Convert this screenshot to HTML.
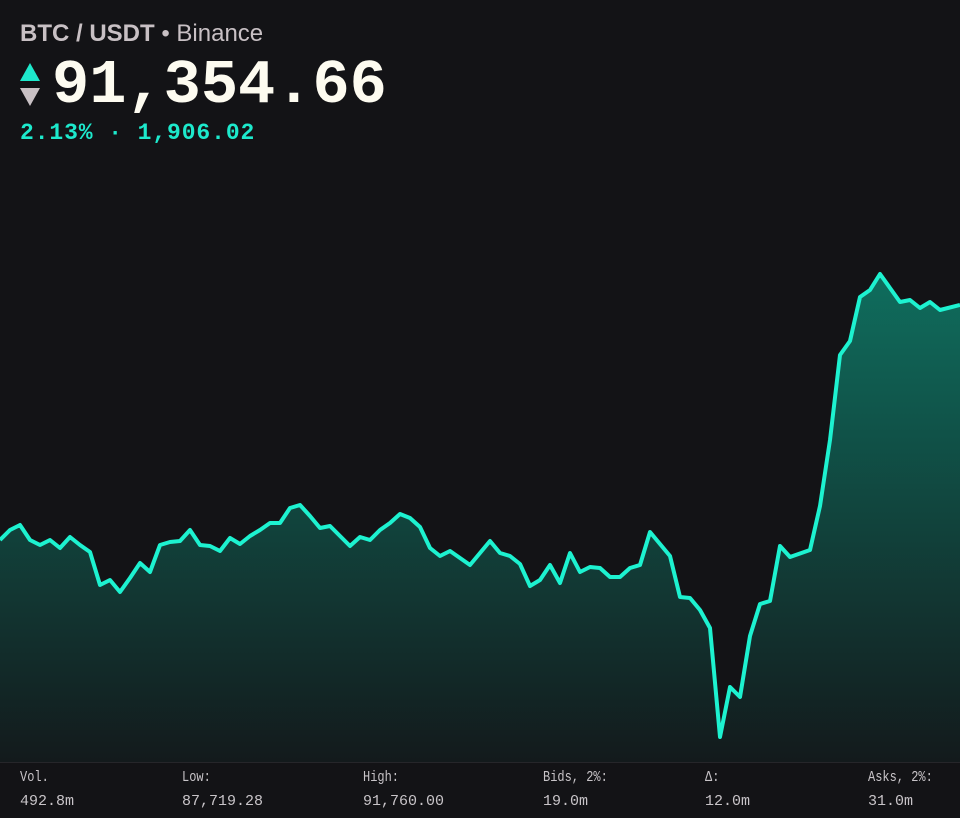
<!DOCTYPE html>
<html><head><meta charset="utf-8"><style>
html,body{margin:0;padding:0;background:#131316;width:960px;height:818px;overflow:hidden;font-family:"Liberation Sans",sans-serif}
.t{position:absolute;left:20px;top:20px;font-size:24px;color:#c8c0c4}
.t b{font-weight:bold}
.p{position:absolute;left:52px;top:51px;font-family:"Liberation Mono",monospace;font-weight:bold;font-size:62px;color:#fdfbf0;letter-spacing:0px;line-height:70px}
.c{position:absolute;left:20px;top:120px;font-family:"Liberation Mono",monospace;font-weight:bold;font-size:23px;letter-spacing:0.9px;color:#1de9cc}
.f{position:absolute;top:762px;left:0;width:960px;border-top:1px solid #26262a}
.s{position:absolute;font-family:"Liberation Mono",monospace;font-size:15px;color:#c8c4c8;line-height:16px}
.l{transform:scaleX(0.8);transform-origin:left}
</style></head><body>
<svg width="960" height="818" style="position:absolute;left:0;top:0">
<defs><linearGradient id="g" x1="0" y1="270" x2="0" y2="762" gradientUnits="userSpaceOnUse">
<stop offset="0" stop-color="#0f6e5e"/><stop offset="1" stop-color="#131a1c"/></linearGradient></defs>
<path d="M0,540 L10,530 L20,525 L30,540 L40,545 L50,540 L60,548 L70,537 L80,545 L90,552 L100,585 L110,580 L120,592 L130,578 L140,563 L150,572 L160,545 L170,542 L180,541 L190,530 L200,545 L210,546 L220,551 L230,538 L240,544 L250,536 L260,530 L270,523 L280,523 L290,508 L300,505 L310,516 L320,528 L330,526 L340,536 L350,546 L360,537 L370,540 L380,530 L390,523 L400,514 L410,518 L420,527 L430,548 L440,556 L450,551 L460,558 L470,565 L480,553 L490,541 L500,553 L510,556 L520,564 L530,586 L540,580 L550,565 L560,583 L570,553 L580,572 L590,567 L600,568 L610,577 L620,577 L630,568 L640,565 L650,532 L660,544 L670,556 L680,597 L690,598 L700,610 L710,628 L720,737 L730,687 L740,697 L750,636 L760,604 L770,601 L780,546 L790,557 L810,550 L820,506 L830,440 L840,355 L850,341 L860,297 L870,290 L880,274 L890,288 L900,302 L910,300 L920,308 L930,302 L940,310 L960,305 L960,762 L0,762 Z" fill="url(#g)"/>
<path d="M0,540 L10,530 L20,525 L30,540 L40,545 L50,540 L60,548 L70,537 L80,545 L90,552 L100,585 L110,580 L120,592 L130,578 L140,563 L150,572 L160,545 L170,542 L180,541 L190,530 L200,545 L210,546 L220,551 L230,538 L240,544 L250,536 L260,530 L270,523 L280,523 L290,508 L300,505 L310,516 L320,528 L330,526 L340,536 L350,546 L360,537 L370,540 L380,530 L390,523 L400,514 L410,518 L420,527 L430,548 L440,556 L450,551 L460,558 L470,565 L480,553 L490,541 L500,553 L510,556 L520,564 L530,586 L540,580 L550,565 L560,583 L570,553 L580,572 L590,567 L600,568 L610,577 L620,577 L630,568 L640,565 L650,532 L660,544 L670,556 L680,597 L690,598 L700,610 L710,628 L720,737 L730,687 L740,697 L750,636 L760,604 L770,601 L780,546 L790,557 L810,550 L820,506 L830,440 L840,355 L850,341 L860,297 L870,290 L880,274 L890,288 L900,302 L910,300 L920,308 L930,302 L940,310 L960,305" fill="none" stroke="#1df2d0" stroke-width="4" stroke-linejoin="round"/>
<polygon points="30,63 40,81 20,81" fill="#1de9cc"/>
<polygon points="20,88 40,88 30,106" fill="#c8c0c4"/>
</svg>
<div class="t"><b>BTC / USDT</b> • Binance</div>
<div class="p">91,354.66</div>
<div class="c">2.13% · 1,906.02</div>
<div class="f"></div>
<div class="s l" style="left:20px;top:770px">Vol.</div><div class="s" style="left:20px;top:794px">492.8m</div>
<div class="s l" style="left:182px;top:770px">Low:</div><div class="s" style="left:182px;top:794px">87,719.28</div>
<div class="s l" style="left:363px;top:770px">High:</div><div class="s" style="left:363px;top:794px">91,760.00</div>
<div class="s l" style="left:543px;top:770px">Bids, 2%:</div><div class="s" style="left:543px;top:794px">19.0m</div>
<div class="s l" style="left:705px;top:770px">Δ:</div><div class="s" style="left:705px;top:794px">12.0m</div>
<div class="s l" style="left:868px;top:770px">Asks, 2%:</div><div class="s" style="left:868px;top:794px">31.0m</div>
</body></html>
